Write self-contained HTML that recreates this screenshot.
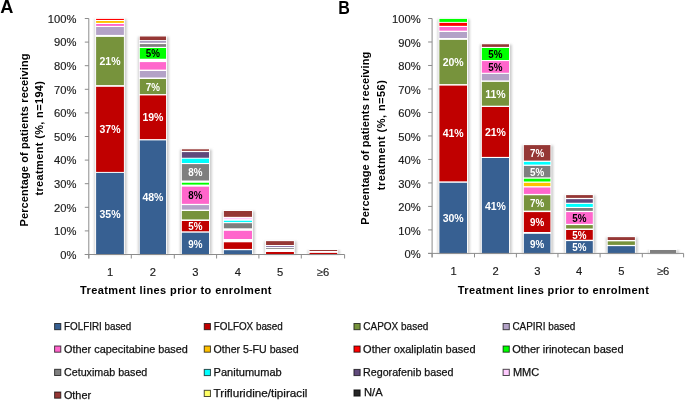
<!DOCTYPE html><html><head><meta charset="utf-8"><style>html,body{margin:0;padding:0;background:#fff;}svg{display:block;filter:blur(0.4px);will-change:transform;}</style></head><body>
<svg width="685" height="400" viewBox="0 0 685 400">
<defs><filter id="sh" x="-30%" y="-30%" width="160%" height="160%"><feGaussianBlur stdDeviation="0.9"/></filter></defs>
<rect width="685" height="400" fill="#fff"/>
<text x="0.2" y="13.3" font-size="18.2" font-weight="bold" fill="#000" font-family="Liberation Sans, sans-serif">A</text>
<text x="338.2" y="13.5" font-size="18.2" font-weight="bold" fill="#000" textLength="11.6" lengthAdjust="spacingAndGlyphs" font-family="Liberation Sans, sans-serif">B</text>
<rect x="94.4" y="19.2" width="32.3" height="235.3" fill="#cbcbcb" filter="url(#sh)"/>
<rect x="95.2" y="18" width="29.6" height="236.5" fill="#fff"/>
<rect x="96.1" y="18.9" width="27.8" height="1.1" fill="#FF0000"/>
<rect x="96.1" y="21" width="27.8" height="1.9" fill="#FFC000"/>
<rect x="96.1" y="24" width="27.8" height="1.9" fill="#FF66CC"/>
<rect x="96.1" y="27" width="27.8" height="7.9" fill="#B3A2C7"/>
<rect x="96.1" y="36.9" width="27.8" height="48.2" fill="#77933C"/>
<rect x="96.1" y="86.8" width="27.8" height="85.1" fill="#C00000"/>
<rect x="96.1" y="172.9" width="27.8" height="81.6" fill="#376092"/>
<text x="110" y="65" text-anchor="middle" font-weight="bold" font-size="10.5" fill="#fff" font-family="Liberation Sans, sans-serif">21%</text>
<text x="110" y="133.35" text-anchor="middle" font-weight="bold" font-size="10.5" fill="#fff" font-family="Liberation Sans, sans-serif">37%</text>
<text x="110" y="217.7" text-anchor="middle" font-weight="bold" font-size="10.5" fill="#fff" font-family="Liberation Sans, sans-serif">35%</text>
<rect x="138.1" y="36.8" width="30.75" height="217.7" fill="#cbcbcb" filter="url(#sh)"/>
<rect x="138.9" y="35.6" width="28.05" height="218.9" fill="#fff"/>
<rect x="139.8" y="36.5" width="26.25" height="3.5" fill="#953735"/>
<rect x="139.8" y="40.8" width="26.25" height="2" fill="#A99DBF"/>
<rect x="139.8" y="44.1" width="26.25" height="2.75" fill="#7F7F7F"/>
<rect x="139.8" y="48" width="26.25" height="10.75" fill="#00FF00"/>
<rect x="139.8" y="62.1" width="26.25" height="7.5" fill="#FF66CC"/>
<rect x="139.8" y="71" width="26.25" height="6.5" fill="#B3A2C7"/>
<rect x="139.8" y="79" width="26.25" height="15.1" fill="#77933C"/>
<rect x="139.8" y="95.4" width="26.25" height="43.7" fill="#C00000"/>
<rect x="139.8" y="140.4" width="26.25" height="114.1" fill="#376092"/>
<text x="152.93" y="57.38" text-anchor="middle" font-weight="bold" font-size="10.5" fill="#000" textLength="14.2" lengthAdjust="spacingAndGlyphs" font-family="Liberation Sans, sans-serif">5%</text>
<text x="152.93" y="90.55" text-anchor="middle" font-weight="bold" font-size="10.5" fill="#fff" textLength="14.2" lengthAdjust="spacingAndGlyphs" font-family="Liberation Sans, sans-serif">7%</text>
<text x="152.93" y="121.25" text-anchor="middle" font-weight="bold" font-size="10.5" fill="#fff" font-family="Liberation Sans, sans-serif">19%</text>
<text x="152.93" y="201.45" text-anchor="middle" font-weight="bold" font-size="10.5" fill="#fff" font-family="Liberation Sans, sans-serif">48%</text>
<rect x="180.15" y="149.6" width="31.65" height="104.9" fill="#cbcbcb" filter="url(#sh)"/>
<rect x="180.95" y="148.4" width="28.95" height="106.1" fill="#fff"/>
<rect x="181.85" y="149.3" width="27.15" height="1.55" fill="#953735"/>
<rect x="181.85" y="152.1" width="27.15" height="5.65" fill="#604A7B"/>
<rect x="181.85" y="158.7" width="27.15" height="4.3" fill="#00FFFF"/>
<rect x="181.85" y="164.1" width="27.15" height="16.4" fill="#7F7F7F"/>
<rect x="181.85" y="182.75" width="27.15" height="1.85" fill="#00FF00"/>
<rect x="181.85" y="186.65" width="27.15" height="17.2" fill="#FF66CC"/>
<rect x="181.85" y="205.1" width="27.15" height="4.5" fill="#B3A2C7"/>
<rect x="181.85" y="211" width="27.15" height="8.4" fill="#77933C"/>
<rect x="181.85" y="221" width="27.15" height="10.3" fill="#C00000"/>
<rect x="181.85" y="232.7" width="27.15" height="21.8" fill="#376092"/>
<text x="195.43" y="176.3" text-anchor="middle" font-weight="bold" font-size="10.5" fill="#fff" textLength="14.2" lengthAdjust="spacingAndGlyphs" font-family="Liberation Sans, sans-serif">8%</text>
<text x="195.43" y="199.25" text-anchor="middle" font-weight="bold" font-size="10.5" fill="#000" textLength="14.2" lengthAdjust="spacingAndGlyphs" font-family="Liberation Sans, sans-serif">8%</text>
<text x="195.43" y="230.15" text-anchor="middle" font-weight="bold" font-size="10.5" fill="#fff" textLength="14.2" lengthAdjust="spacingAndGlyphs" font-family="Liberation Sans, sans-serif">5%</text>
<text x="195.43" y="247.6" text-anchor="middle" font-weight="bold" font-size="10.5" fill="#fff" textLength="14.2" lengthAdjust="spacingAndGlyphs" font-family="Liberation Sans, sans-serif">9%</text>
<rect x="222.15" y="211.3" width="32.65" height="43.2" fill="#cbcbcb" filter="url(#sh)"/>
<rect x="222.95" y="210.1" width="29.95" height="44.4" fill="#fff"/>
<rect x="223.85" y="211" width="28.15" height="5.85" fill="#953735"/>
<rect x="223.85" y="217.9" width="28.15" height="1.35" fill="#FFCCFF"/>
<rect x="223.85" y="220.75" width="28.15" height="1.35" fill="#00FFFF"/>
<rect x="223.85" y="223.2" width="28.15" height="5.1" fill="#7F7F7F"/>
<rect x="223.85" y="230.8" width="28.15" height="8.2" fill="#FF66CC"/>
<rect x="223.85" y="242.3" width="28.15" height="6.6" fill="#C00000"/>
<rect x="223.85" y="250.2" width="28.15" height="4.3" fill="#376092"/>
<rect x="264.35" y="241.45" width="32.35" height="13.05" fill="#cbcbcb" filter="url(#sh)"/>
<rect x="265.15" y="240.25" width="29.65" height="14.25" fill="#fff"/>
<rect x="266.05" y="241.15" width="27.85" height="3.85" fill="#953735"/>
<rect x="266.05" y="246" width="27.85" height="1" fill="#8A7AA8"/>
<rect x="266.05" y="248.1" width="27.85" height="0.8" fill="#7F7F7F"/>
<rect x="266.05" y="252" width="27.85" height="2.5" fill="#C00000"/>
<rect x="307.8" y="250.3" width="32.2" height="4.2" fill="#cbcbcb" filter="url(#sh)"/>
<rect x="308.6" y="249.1" width="29.5" height="5.4" fill="#fff"/>
<rect x="309.5" y="250" width="27.7" height="1" fill="#953735"/>
<rect x="309.5" y="252.9" width="27.7" height="1.6" fill="#C00000"/>
<rect x="437.7" y="19.2" width="32.1" height="234.2" fill="#cbcbcb" filter="url(#sh)"/>
<rect x="438.5" y="18" width="29.4" height="235.4" fill="#fff"/>
<rect x="439.4" y="18.9" width="27.6" height="3" fill="#00FF00"/>
<rect x="439.4" y="22.85" width="27.6" height="3" fill="#FF0000"/>
<rect x="439.4" y="27" width="27.6" height="3.65" fill="#FF66CC"/>
<rect x="439.4" y="32" width="27.6" height="6" fill="#B3A2C7"/>
<rect x="439.4" y="39.9" width="27.6" height="44.2" fill="#77933C"/>
<rect x="439.4" y="85.6" width="27.6" height="95.75" fill="#C00000"/>
<rect x="439.4" y="182.8" width="27.6" height="70.6" fill="#376092"/>
<text x="453.2" y="66" text-anchor="middle" font-weight="bold" font-size="10.5" fill="#fff" font-family="Liberation Sans, sans-serif">20%</text>
<text x="453.2" y="137.47" text-anchor="middle" font-weight="bold" font-size="10.5" fill="#fff" font-family="Liberation Sans, sans-serif">41%</text>
<text x="453.2" y="222.1" text-anchor="middle" font-weight="bold" font-size="10.5" fill="#fff" font-family="Liberation Sans, sans-serif">30%</text>
<rect x="480.15" y="44.55" width="31.65" height="208.85" fill="#cbcbcb" filter="url(#sh)"/>
<rect x="480.95" y="43.35" width="28.95" height="210.05" fill="#fff"/>
<rect x="481.85" y="44.25" width="27.15" height="2.65" fill="#953735"/>
<rect x="481.85" y="48" width="27.15" height="12" fill="#00FF00"/>
<rect x="481.85" y="61.1" width="27.15" height="11.65" fill="#FF66CC"/>
<rect x="481.85" y="73.9" width="27.15" height="6.5" fill="#B3A2C7"/>
<rect x="481.85" y="81.9" width="27.15" height="23.8" fill="#77933C"/>
<rect x="481.85" y="107" width="27.15" height="49.9" fill="#C00000"/>
<rect x="481.85" y="158" width="27.15" height="95.4" fill="#376092"/>
<text x="495.43" y="58" text-anchor="middle" font-weight="bold" font-size="10.5" fill="#000" textLength="14.2" lengthAdjust="spacingAndGlyphs" font-family="Liberation Sans, sans-serif">5%</text>
<text x="495.43" y="70.92" text-anchor="middle" font-weight="bold" font-size="10.5" fill="#000" textLength="14.2" lengthAdjust="spacingAndGlyphs" font-family="Liberation Sans, sans-serif">5%</text>
<text x="495.43" y="97.8" text-anchor="middle" font-weight="bold" font-size="10.5" fill="#fff" font-family="Liberation Sans, sans-serif">11%</text>
<text x="495.43" y="135.95" text-anchor="middle" font-weight="bold" font-size="10.5" fill="#fff" font-family="Liberation Sans, sans-serif">21%</text>
<text x="495.43" y="209.7" text-anchor="middle" font-weight="bold" font-size="10.5" fill="#fff" font-family="Liberation Sans, sans-serif">41%</text>
<rect x="522.15" y="145.4" width="31.05" height="108" fill="#cbcbcb" filter="url(#sh)"/>
<rect x="522.95" y="144.2" width="28.35" height="109.2" fill="#fff"/>
<rect x="523.85" y="145.1" width="26.55" height="15.5" fill="#953735"/>
<rect x="523.85" y="161.9" width="26.55" height="2.7" fill="#00FFFF"/>
<rect x="523.85" y="165.9" width="26.55" height="11.5" fill="#7F7F7F"/>
<rect x="523.85" y="178.7" width="26.55" height="2.8" fill="#00FF00"/>
<rect x="523.85" y="182.8" width="26.55" height="3.35" fill="#FFC000"/>
<rect x="523.85" y="187.5" width="26.55" height="6.4" fill="#FF66CC"/>
<rect x="523.85" y="195.25" width="26.55" height="15.35" fill="#77933C"/>
<rect x="523.85" y="212.1" width="26.55" height="19.9" fill="#C00000"/>
<rect x="523.85" y="233.8" width="26.55" height="19.6" fill="#376092"/>
<text x="537.12" y="156.85" text-anchor="middle" font-weight="bold" font-size="10.5" fill="#fff" textLength="14.2" lengthAdjust="spacingAndGlyphs" font-family="Liberation Sans, sans-serif">7%</text>
<text x="537.12" y="175.65" text-anchor="middle" font-weight="bold" font-size="10.5" fill="#fff" textLength="14.2" lengthAdjust="spacingAndGlyphs" font-family="Liberation Sans, sans-serif">5%</text>
<text x="537.12" y="206.93" text-anchor="middle" font-weight="bold" font-size="10.5" fill="#fff" textLength="14.2" lengthAdjust="spacingAndGlyphs" font-family="Liberation Sans, sans-serif">7%</text>
<text x="537.12" y="226.05" text-anchor="middle" font-weight="bold" font-size="10.5" fill="#fff" textLength="14.2" lengthAdjust="spacingAndGlyphs" font-family="Liberation Sans, sans-serif">9%</text>
<text x="537.12" y="247.6" text-anchor="middle" font-weight="bold" font-size="10.5" fill="#fff" textLength="14.2" lengthAdjust="spacingAndGlyphs" font-family="Liberation Sans, sans-serif">9%</text>
<rect x="564.4" y="195.4" width="31.2" height="58" fill="#cbcbcb" filter="url(#sh)"/>
<rect x="565.2" y="194.2" width="28.5" height="59.2" fill="#fff"/>
<rect x="566.1" y="195.1" width="26.7" height="2.8" fill="#953735"/>
<rect x="566.1" y="199.15" width="26.7" height="3.6" fill="#604A7B"/>
<rect x="566.1" y="203.9" width="26.7" height="3" fill="#00FFFF"/>
<rect x="566.1" y="208" width="26.7" height="2.85" fill="#7F7F7F"/>
<rect x="566.1" y="212.1" width="26.7" height="11.75" fill="#FF66CC"/>
<rect x="566.1" y="225.1" width="26.7" height="3.4" fill="#77933C"/>
<rect x="566.1" y="230" width="26.7" height="9.75" fill="#C00000"/>
<rect x="566.1" y="241.1" width="26.7" height="12.3" fill="#376092"/>
<text x="579.45" y="221.97" text-anchor="middle" font-weight="bold" font-size="10.5" fill="#000" textLength="14.2" lengthAdjust="spacingAndGlyphs" font-family="Liberation Sans, sans-serif">5%</text>
<text x="579.45" y="238.88" text-anchor="middle" font-weight="bold" font-size="10.5" fill="#fff" textLength="14.2" lengthAdjust="spacingAndGlyphs" font-family="Liberation Sans, sans-serif">5%</text>
<text x="579.45" y="251.25" text-anchor="middle" font-weight="bold" font-size="10.5" fill="#fff" textLength="14.2" lengthAdjust="spacingAndGlyphs" font-family="Liberation Sans, sans-serif">5%</text>
<rect x="606" y="237.45" width="31.7" height="15.95" fill="#cbcbcb" filter="url(#sh)"/>
<rect x="606.8" y="236.25" width="29" height="17.15" fill="#fff"/>
<rect x="607.7" y="237.15" width="27.2" height="2.85" fill="#953735"/>
<rect x="607.7" y="241.35" width="27.2" height="3.55" fill="#77933C"/>
<rect x="607.7" y="246.15" width="27.2" height="7.25" fill="#376092"/>
<rect x="648.3" y="250.3" width="30.7" height="3.1" fill="#cbcbcb" filter="url(#sh)"/>
<rect x="649.1" y="249.1" width="28" height="4.3" fill="#fff"/>
<rect x="650" y="250" width="26.2" height="3.4" fill="#7F7F7F"/>
<g stroke="#8c8c8c" stroke-width="1" fill="none">
<line x1="88.8" y1="18.5" x2="88.8" y2="258.5"/>
<line x1="84.8" y1="254.5" x2="88.8" y2="254.5"/>
<line x1="84.8" y1="230.9" x2="88.8" y2="230.9"/>
<line x1="84.8" y1="207.3" x2="88.8" y2="207.3"/>
<line x1="84.8" y1="183.7" x2="88.8" y2="183.7"/>
<line x1="84.8" y1="160.1" x2="88.8" y2="160.1"/>
<line x1="84.8" y1="136.5" x2="88.8" y2="136.5"/>
<line x1="84.8" y1="112.9" x2="88.8" y2="112.9"/>
<line x1="84.8" y1="89.3" x2="88.8" y2="89.3"/>
<line x1="84.8" y1="65.7" x2="88.8" y2="65.7"/>
<line x1="84.8" y1="42.1" x2="88.8" y2="42.1"/>
<line x1="84.8" y1="18.5" x2="88.8" y2="18.5"/>
<line x1="84.8" y1="254.5" x2="344.6" y2="254.5"/>
<line x1="88.8" y1="254.5" x2="88.8" y2="258.5"/>
<line x1="131.3" y1="254.5" x2="131.3" y2="258.5"/>
<line x1="174.3" y1="254.5" x2="174.3" y2="258.5"/>
<line x1="216.6" y1="254.5" x2="216.6" y2="258.5"/>
<line x1="258.9" y1="254.5" x2="258.9" y2="258.5"/>
<line x1="301.3" y1="254.5" x2="301.3" y2="258.5"/>
<line x1="344.6" y1="254.5" x2="344.6" y2="258.5"/>
</g>
<text x="76.4" y="258.7" text-anchor="end" font-size="11.2" fill="#1a1a1a" stroke="#1a1a1a" stroke-width="0.15" font-family="Liberation Sans, sans-serif">0%</text>
<text x="76.4" y="235.1" text-anchor="end" font-size="11.2" fill="#1a1a1a" stroke="#1a1a1a" stroke-width="0.15" font-family="Liberation Sans, sans-serif">10%</text>
<text x="76.4" y="211.5" text-anchor="end" font-size="11.2" fill="#1a1a1a" stroke="#1a1a1a" stroke-width="0.15" font-family="Liberation Sans, sans-serif">20%</text>
<text x="76.4" y="187.9" text-anchor="end" font-size="11.2" fill="#1a1a1a" stroke="#1a1a1a" stroke-width="0.15" font-family="Liberation Sans, sans-serif">30%</text>
<text x="76.4" y="164.3" text-anchor="end" font-size="11.2" fill="#1a1a1a" stroke="#1a1a1a" stroke-width="0.15" font-family="Liberation Sans, sans-serif">40%</text>
<text x="76.4" y="140.7" text-anchor="end" font-size="11.2" fill="#1a1a1a" stroke="#1a1a1a" stroke-width="0.15" font-family="Liberation Sans, sans-serif">50%</text>
<text x="76.4" y="117.1" text-anchor="end" font-size="11.2" fill="#1a1a1a" stroke="#1a1a1a" stroke-width="0.15" font-family="Liberation Sans, sans-serif">60%</text>
<text x="76.4" y="93.5" text-anchor="end" font-size="11.2" fill="#1a1a1a" stroke="#1a1a1a" stroke-width="0.15" font-family="Liberation Sans, sans-serif">70%</text>
<text x="76.4" y="69.9" text-anchor="end" font-size="11.2" fill="#1a1a1a" stroke="#1a1a1a" stroke-width="0.15" font-family="Liberation Sans, sans-serif">80%</text>
<text x="76.4" y="46.3" text-anchor="end" font-size="11.2" fill="#1a1a1a" stroke="#1a1a1a" stroke-width="0.15" font-family="Liberation Sans, sans-serif">90%</text>
<text x="76.4" y="22.7" text-anchor="end" font-size="11.2" fill="#1a1a1a" stroke="#1a1a1a" stroke-width="0.15" font-family="Liberation Sans, sans-serif">100%</text>
<text x="110.05" y="276" text-anchor="middle" font-size="11.2" fill="#1a1a1a" stroke="#1a1a1a" stroke-width="0.15" font-family="Liberation Sans, sans-serif">1</text>
<text x="152.8" y="276" text-anchor="middle" font-size="11.2" fill="#1a1a1a" stroke="#1a1a1a" stroke-width="0.15" font-family="Liberation Sans, sans-serif">2</text>
<text x="195.45" y="276" text-anchor="middle" font-size="11.2" fill="#1a1a1a" stroke="#1a1a1a" stroke-width="0.15" font-family="Liberation Sans, sans-serif">3</text>
<text x="237.75" y="276" text-anchor="middle" font-size="11.2" fill="#1a1a1a" stroke="#1a1a1a" stroke-width="0.15" font-family="Liberation Sans, sans-serif">4</text>
<text x="280.1" y="276" text-anchor="middle" font-size="11.2" fill="#1a1a1a" stroke="#1a1a1a" stroke-width="0.15" font-family="Liberation Sans, sans-serif">5</text>
<text x="322.95" y="276" text-anchor="middle" font-size="11.2" fill="#1a1a1a" stroke="#1a1a1a" stroke-width="0.15" font-family="Liberation Sans, sans-serif">≥6</text>
<g stroke="#8c8c8c" stroke-width="1" fill="none">
<line x1="432.1" y1="18.5" x2="432.1" y2="257.4"/>
<line x1="428.1" y1="253.4" x2="432.1" y2="253.4"/>
<line x1="428.1" y1="229.91" x2="432.1" y2="229.91"/>
<line x1="428.1" y1="206.42" x2="432.1" y2="206.42"/>
<line x1="428.1" y1="182.93" x2="432.1" y2="182.93"/>
<line x1="428.1" y1="159.44" x2="432.1" y2="159.44"/>
<line x1="428.1" y1="135.95" x2="432.1" y2="135.95"/>
<line x1="428.1" y1="112.46" x2="432.1" y2="112.46"/>
<line x1="428.1" y1="88.97" x2="432.1" y2="88.97"/>
<line x1="428.1" y1="65.48" x2="432.1" y2="65.48"/>
<line x1="428.1" y1="41.99" x2="432.1" y2="41.99"/>
<line x1="428.1" y1="18.5" x2="432.1" y2="18.5"/>
<line x1="428.1" y1="253.4" x2="683.6" y2="253.4"/>
<line x1="432.1" y1="253.4" x2="432.1" y2="257.4"/>
<line x1="474.5" y1="253.4" x2="474.5" y2="257.4"/>
<line x1="516.4" y1="253.4" x2="516.4" y2="257.4"/>
<line x1="557.95" y1="253.4" x2="557.95" y2="257.4"/>
<line x1="600.1" y1="253.4" x2="600.1" y2="257.4"/>
<line x1="642.3" y1="253.4" x2="642.3" y2="257.4"/>
<line x1="683.6" y1="253.4" x2="683.6" y2="257.4"/>
</g>
<text x="420.6" y="258.2" text-anchor="end" font-size="11.2" fill="#1a1a1a" stroke="#1a1a1a" stroke-width="0.15" font-family="Liberation Sans, sans-serif">0%</text>
<text x="420.6" y="234.71" text-anchor="end" font-size="11.2" fill="#1a1a1a" stroke="#1a1a1a" stroke-width="0.15" font-family="Liberation Sans, sans-serif">10%</text>
<text x="420.6" y="211.22" text-anchor="end" font-size="11.2" fill="#1a1a1a" stroke="#1a1a1a" stroke-width="0.15" font-family="Liberation Sans, sans-serif">20%</text>
<text x="420.6" y="187.73" text-anchor="end" font-size="11.2" fill="#1a1a1a" stroke="#1a1a1a" stroke-width="0.15" font-family="Liberation Sans, sans-serif">30%</text>
<text x="420.6" y="164.24" text-anchor="end" font-size="11.2" fill="#1a1a1a" stroke="#1a1a1a" stroke-width="0.15" font-family="Liberation Sans, sans-serif">40%</text>
<text x="420.6" y="140.75" text-anchor="end" font-size="11.2" fill="#1a1a1a" stroke="#1a1a1a" stroke-width="0.15" font-family="Liberation Sans, sans-serif">50%</text>
<text x="420.6" y="117.26" text-anchor="end" font-size="11.2" fill="#1a1a1a" stroke="#1a1a1a" stroke-width="0.15" font-family="Liberation Sans, sans-serif">60%</text>
<text x="420.6" y="93.77" text-anchor="end" font-size="11.2" fill="#1a1a1a" stroke="#1a1a1a" stroke-width="0.15" font-family="Liberation Sans, sans-serif">70%</text>
<text x="420.6" y="70.28" text-anchor="end" font-size="11.2" fill="#1a1a1a" stroke="#1a1a1a" stroke-width="0.15" font-family="Liberation Sans, sans-serif">80%</text>
<text x="420.6" y="46.79" text-anchor="end" font-size="11.2" fill="#1a1a1a" stroke="#1a1a1a" stroke-width="0.15" font-family="Liberation Sans, sans-serif">90%</text>
<text x="420.6" y="23.3" text-anchor="end" font-size="11.2" fill="#1a1a1a" stroke="#1a1a1a" stroke-width="0.15" font-family="Liberation Sans, sans-serif">100%</text>
<text x="453.5" y="274.9" text-anchor="middle" font-size="11.2" fill="#1a1a1a" stroke="#1a1a1a" stroke-width="0.15" font-family="Liberation Sans, sans-serif">1</text>
<text x="495.65" y="274.9" text-anchor="middle" font-size="11.2" fill="#1a1a1a" stroke="#1a1a1a" stroke-width="0.15" font-family="Liberation Sans, sans-serif">2</text>
<text x="537.38" y="274.9" text-anchor="middle" font-size="11.2" fill="#1a1a1a" stroke="#1a1a1a" stroke-width="0.15" font-family="Liberation Sans, sans-serif">3</text>
<text x="579.23" y="274.9" text-anchor="middle" font-size="11.2" fill="#1a1a1a" stroke="#1a1a1a" stroke-width="0.15" font-family="Liberation Sans, sans-serif">4</text>
<text x="621.4" y="274.9" text-anchor="middle" font-size="11.2" fill="#1a1a1a" stroke="#1a1a1a" stroke-width="0.15" font-family="Liberation Sans, sans-serif">5</text>
<text x="663.15" y="274.9" text-anchor="middle" font-size="11.2" fill="#1a1a1a" stroke="#1a1a1a" stroke-width="0.15" font-family="Liberation Sans, sans-serif">≥6</text>
<text transform="translate(27.8,226.5) rotate(-90)" font-size="11" font-weight="bold" fill="#000" textLength="173" lengthAdjust="spacing" font-family="Liberation Sans, sans-serif">Percentage of patients receiving</text>
<text transform="translate(43.4,195.5) rotate(-90)" font-size="11" font-weight="bold" fill="#000" textLength="114.5" lengthAdjust="spacing" font-family="Liberation Sans, sans-serif">treatment (%, n=194)</text>
<text transform="translate(369.3,224.7) rotate(-90)" font-size="11" font-weight="bold" fill="#000" textLength="173" lengthAdjust="spacing" font-family="Liberation Sans, sans-serif">Percentage of patients receiving</text>
<text transform="translate(384.9,190.2) rotate(-90)" font-size="11" font-weight="bold" fill="#000" textLength="110" lengthAdjust="spacing" font-family="Liberation Sans, sans-serif">treatment (%, n=56)</text>
<text x="80" y="294" font-size="11" font-weight="bold" fill="#000" textLength="191.5" lengthAdjust="spacing" font-family="Liberation Sans, sans-serif">Treatment lines prior to enrolment</text>
<text x="457.8" y="294" font-size="11" font-weight="bold" fill="#000" textLength="191" lengthAdjust="spacing" font-family="Liberation Sans, sans-serif">Treatment lines prior to enrolment</text>
<rect x="54.6" y="323.5" width="6.2" height="6.2" fill="#376092" stroke="rgba(0,0,0,0.7)" stroke-width="1"/>
<text x="64" y="330" font-size="11" fill="#111" stroke="#111" stroke-width="0.25" textLength="67.3" lengthAdjust="spacingAndGlyphs" font-family="Liberation Sans, sans-serif">FOLFIRI based</text>
<rect x="204.25" y="323.5" width="6.2" height="6.2" fill="#C00000" stroke="rgba(0,0,0,0.7)" stroke-width="1"/>
<text x="213.7" y="330" font-size="11" fill="#111" stroke="#111" stroke-width="0.25" textLength="69.1" lengthAdjust="spacingAndGlyphs" font-family="Liberation Sans, sans-serif">FOLFOX based</text>
<rect x="353.95" y="323.5" width="6.2" height="6.2" fill="#77933C" stroke="rgba(0,0,0,0.7)" stroke-width="1"/>
<text x="363.3" y="330" font-size="11" fill="#111" stroke="#111" stroke-width="0.25" textLength="65" lengthAdjust="spacingAndGlyphs" font-family="Liberation Sans, sans-serif">CAPOX based</text>
<rect x="503.1" y="323.5" width="6.2" height="6.2" fill="#B3A2C7" stroke="rgba(0,0,0,0.7)" stroke-width="1"/>
<text x="512.4" y="330" font-size="11" fill="#111" stroke="#111" stroke-width="0.25" textLength="63" lengthAdjust="spacingAndGlyphs" font-family="Liberation Sans, sans-serif">CAPIRI based</text>
<rect x="54.6" y="346" width="6.2" height="6.2" fill="#FF66CC" stroke="rgba(0,0,0,0.7)" stroke-width="1"/>
<text x="64" y="352.5" font-size="11" fill="#111" stroke="#111" stroke-width="0.25" textLength="123.9" lengthAdjust="spacingAndGlyphs" font-family="Liberation Sans, sans-serif">Other capecitabine based</text>
<rect x="204.25" y="346" width="6.2" height="6.2" fill="#FFC000" stroke="rgba(0,0,0,0.7)" stroke-width="1"/>
<text x="213.6" y="352.5" font-size="11" fill="#111" stroke="#111" stroke-width="0.25" textLength="85" lengthAdjust="spacingAndGlyphs" font-family="Liberation Sans, sans-serif">Other 5-FU based</text>
<rect x="353.95" y="346" width="6.2" height="6.2" fill="#FF0000" stroke="rgba(0,0,0,0.7)" stroke-width="1"/>
<text x="363.1" y="352.5" font-size="11" fill="#111" stroke="#111" stroke-width="0.25" textLength="112.4" lengthAdjust="spacingAndGlyphs" font-family="Liberation Sans, sans-serif">Other oxaliplatin based</text>
<rect x="503.1" y="346" width="6.2" height="6.2" fill="#00FF00" stroke="rgba(0,0,0,0.7)" stroke-width="1"/>
<text x="512.2" y="352.5" font-size="11" fill="#111" stroke="#111" stroke-width="0.25" textLength="111.4" lengthAdjust="spacingAndGlyphs" font-family="Liberation Sans, sans-serif">Other irinotecan based</text>
<rect x="54.6" y="369.3" width="6.2" height="6.2" fill="#7F7F7F" stroke="rgba(0,0,0,0.7)" stroke-width="1"/>
<text x="64" y="375.7" font-size="11" fill="#111" stroke="#111" stroke-width="0.25" textLength="83.3" lengthAdjust="spacingAndGlyphs" font-family="Liberation Sans, sans-serif">Cetuximab based</text>
<rect x="204.25" y="369.4" width="6.2" height="6.2" fill="#00FFFF" stroke="rgba(0,0,0,0.7)" stroke-width="1"/>
<text x="213.6" y="375.7" font-size="11" fill="#111" stroke="#111" stroke-width="0.25" textLength="68.1" lengthAdjust="spacingAndGlyphs" font-family="Liberation Sans, sans-serif">Panitumumab</text>
<rect x="353.95" y="369.4" width="6.2" height="6.2" fill="#604A7B" stroke="rgba(0,0,0,0.7)" stroke-width="1"/>
<text x="363" y="375.7" font-size="11" fill="#111" stroke="#111" stroke-width="0.25" textLength="90.5" lengthAdjust="spacingAndGlyphs" font-family="Liberation Sans, sans-serif">Regorafenib based</text>
<rect x="503.1" y="369.3" width="6.2" height="6.2" fill="#FFCCFF" stroke="rgba(0,0,0,0.7)" stroke-width="1"/>
<text x="512.9" y="375.8" font-size="11" fill="#111" stroke="#111" stroke-width="0.25" textLength="26.3" lengthAdjust="spacingAndGlyphs" font-family="Liberation Sans, sans-serif">MMC</text>
<rect x="54.6" y="392" width="6.2" height="6.2" fill="#953735" stroke="rgba(0,0,0,0.7)" stroke-width="1"/>
<text x="63.9" y="398.9" font-size="11" fill="#111" stroke="#111" stroke-width="0.25" textLength="27.2" lengthAdjust="spacingAndGlyphs" font-family="Liberation Sans, sans-serif">Other</text>
<rect x="204.25" y="390.3" width="6.2" height="6.2" fill="#FFFF66" stroke="rgba(0,0,0,0.7)" stroke-width="1"/>
<text x="213.6" y="396.8" font-size="11" fill="#111" stroke="#111" stroke-width="0.25" textLength="93.8" lengthAdjust="spacingAndGlyphs" font-family="Liberation Sans, sans-serif">Trifluridine/tipiracil</text>
<rect x="353.95" y="389.9" width="6.2" height="6.2" fill="#262626" stroke="rgba(0,0,0,0.7)" stroke-width="1"/>
<text x="364" y="396.2" font-size="11" fill="#111" stroke="#111" stroke-width="0.25" textLength="18.7" lengthAdjust="spacingAndGlyphs" font-family="Liberation Sans, sans-serif">N/A</text>
</svg></body></html>
